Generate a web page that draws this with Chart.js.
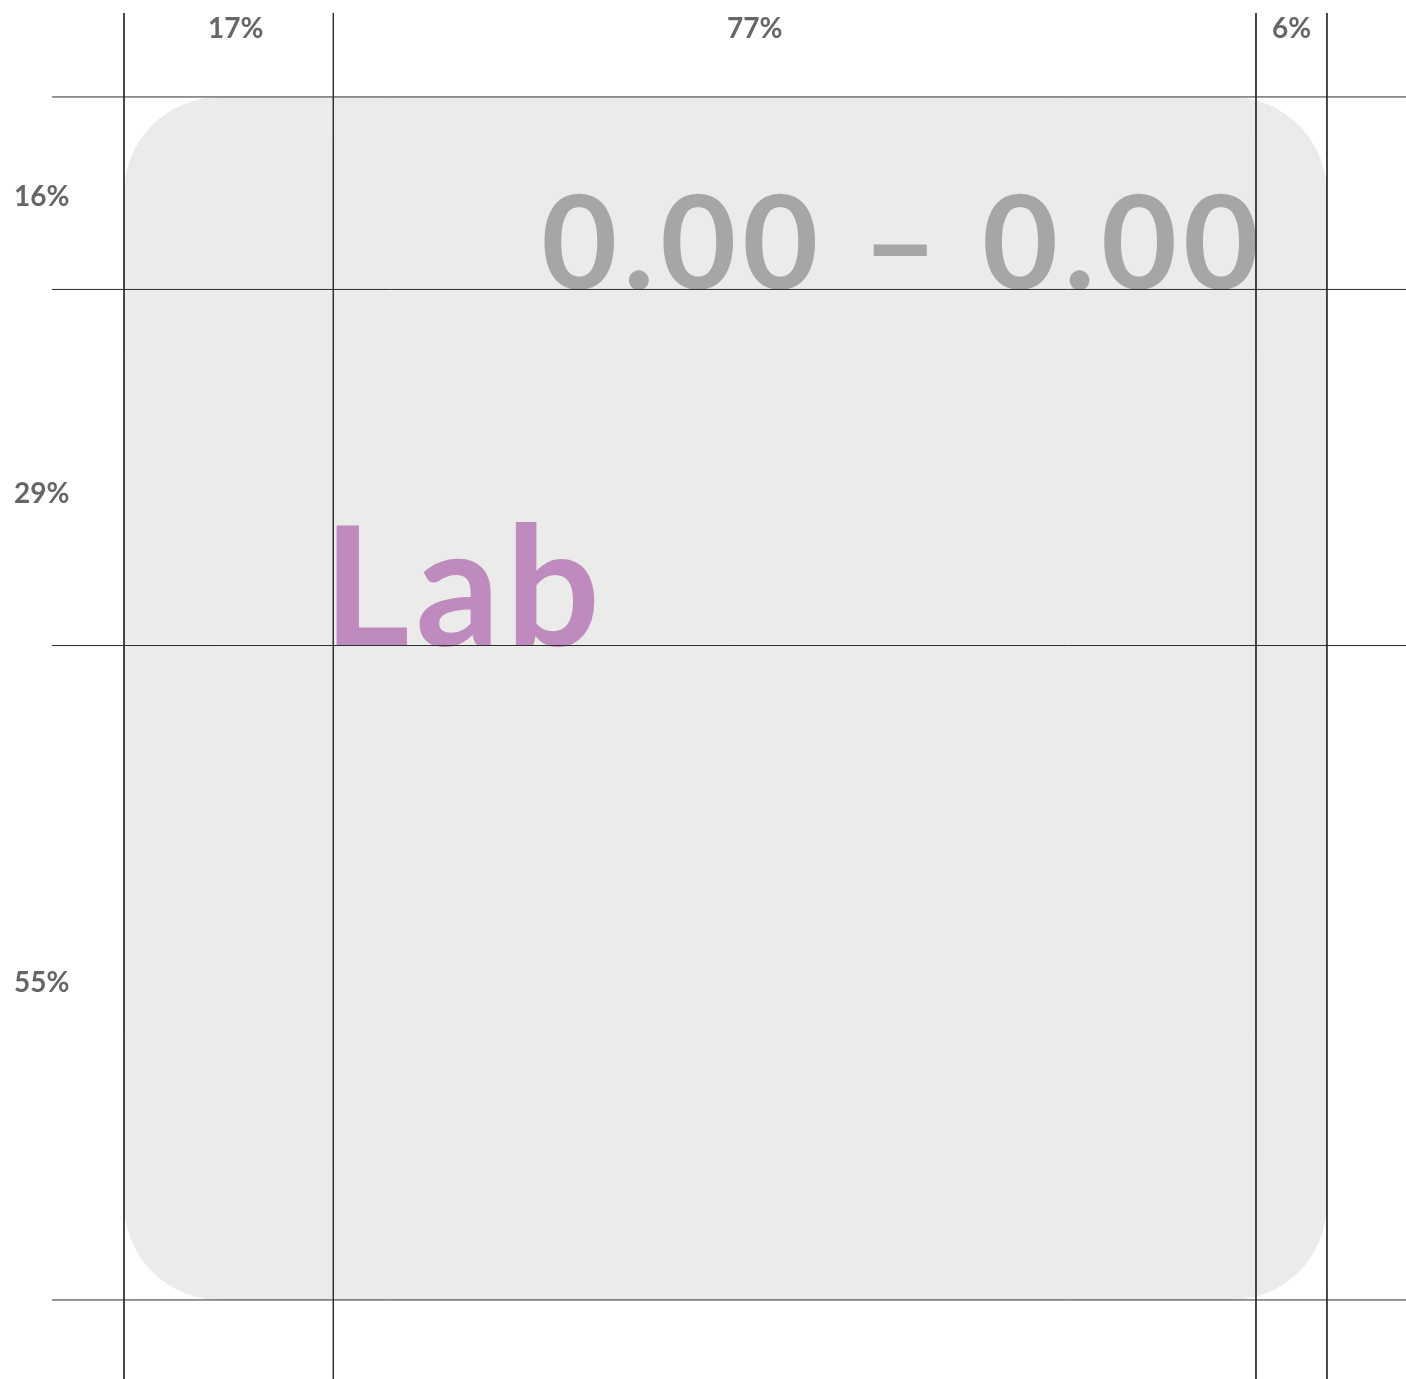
<!DOCTYPE html>
<html>
<head>
<meta charset="utf-8">
<title>Layout grid</title>
<script src="https://cdn.jsdelivr.net/npm/chart.js@4.4.1/dist/chart.umd.min.js"></script>
<style>
  html, body { margin: 0; padding: 0; background: #fff; }
  canvas { display: block; }
</style>
</head>
<body>
<canvas id="layoutChart" width="1406" height="1379"></canvas>
<script>
// shares of the box, in percent
const columnShares = [17.4, 76.7, 5.9];
const columnLabels = ['17%', '77%', '6%'];
const rowShares = [16.0, 29.6, 54.4];
const rowLabels = ['16%', '29%', '55%'];
const rangeText = '0.00 \u2013 0.00';
const titleText = 'Lab';

// axis window, box runs 0..100 on both axes
const X_MIN = -10.31, X_MAX = 106.57;
const Y_MIN = -8.06, Y_MAX = 106.57;
const V_LINE_TOP = -6.98;
const H_LINE_LEFT = -5.99;

const LINE_COLOR = '#2e2e2e';
const BOX_COLOR = '#ebebe9';
const LABEL_COLOR = '#666666';
const FONT = 'Lato, "Open Sans", sans-serif';

function cumulative(arr) {
  const out = [0];
  arr.forEach(function (v) { out.push(out[out.length - 1] + v); });
  return out;
}

const colEdges = cumulative(columnShares);
const rowEdges = cumulative(rowShares);

const datasets = [];
colEdges.forEach(function (x) {
  datasets.push({
    data: [{ x: x, y: V_LINE_TOP }, { x: x, y: Y_MAX }],
    showLine: true, borderColor: LINE_COLOR, borderWidth: 1, pointRadius: 0
  });
});
rowEdges.forEach(function (y) {
  datasets.push({
    data: [{ x: H_LINE_LEFT, y: y }, { x: X_MAX, y: y }],
    showLine: true, borderColor: LINE_COLOR, borderWidth: 1, pointRadius: 0
  });
});

const boxPlugin = {
  id: 'layoutBox',
  beforeDatasetsDraw(chart) {
    const ctx = chart.ctx;
    const xs = chart.scales.x, ys = chart.scales.y;
    const left = xs.getPixelForValue(0), right = xs.getPixelForValue(100);
    const top = ys.getPixelForValue(0), bottom = ys.getPixelForValue(100);
    const r = xs.getPixelForValue(8) - xs.getPixelForValue(0);
    ctx.save();
    ctx.fillStyle = BOX_COLOR;
    ctx.beginPath();
    ctx.roundRect(left, top, right - left, bottom - top, r);
    ctx.fill();

    // big texts
    ctx.fillStyle = '#a6a6a6';
    ctx.font = 'bold 131px ' + FONT;
    ctx.letterSpacing = '6px';
    ctx.textAlign = 'right';
    ctx.textBaseline = 'alphabetic';
    ctx.fillText(rangeText, xs.getPixelForValue(colEdges[2]) + 9, ys.getPixelForValue(rowEdges[1]));

    ctx.fillStyle = '#bf8abe';
    ctx.font = 'bold 166px ' + FONT;
    ctx.letterSpacing = '6px';
    ctx.textAlign = 'left';
    ctx.fillText(titleText, xs.getPixelForValue(colEdges[1]) - 10, ys.getPixelForValue(rowEdges[2]));
    ctx.letterSpacing = '0px';
    ctx.restore();
  },
  afterDatasetsDraw(chart) {
    const ctx = chart.ctx;
    const xs = chart.scales.x, ys = chart.scales.y;
    const colNudge = [7, -40, 0];
    const rowNudge = [4, 26, 10];
    ctx.save();
    ctx.fillStyle = LABEL_COLOR;
    ctx.font = 'bold 28px ' + FONT;
    ctx.textBaseline = 'middle';
    ctx.textAlign = 'center';
    columnLabels.forEach(function (t, i) {
      const mid = (colEdges[i] + colEdges[i + 1]) / 2;
      ctx.fillText(t, xs.getPixelForValue(mid) + colNudge[i], ys.getPixelForValue(-5.65));
    });
    ctx.textAlign = 'left';
    rowLabels.forEach(function (t, i) {
      const mid = (rowEdges[i] + rowEdges[i + 1]) / 2;
      ctx.fillText(t, xs.getPixelForValue(-9.14), ys.getPixelForValue(mid) + rowNudge[i]);
    });
    ctx.restore();
  }
};

new Chart(document.getElementById('layoutChart').getContext('2d'), {
  type: 'scatter',
  data: { datasets: datasets },
  options: {
    responsive: false,
    animation: false,
    layout: { padding: 0 },
    plugins: { legend: { display: false }, tooltip: { enabled: false } },
    scales: {
      x: { type: 'linear', min: X_MIN, max: X_MAX, display: false },
      y: { type: 'linear', min: Y_MIN, max: Y_MAX, reverse: true, display: false }
    }
  },
  plugins: [boxPlugin]
});
</script>
</body>
</html>
